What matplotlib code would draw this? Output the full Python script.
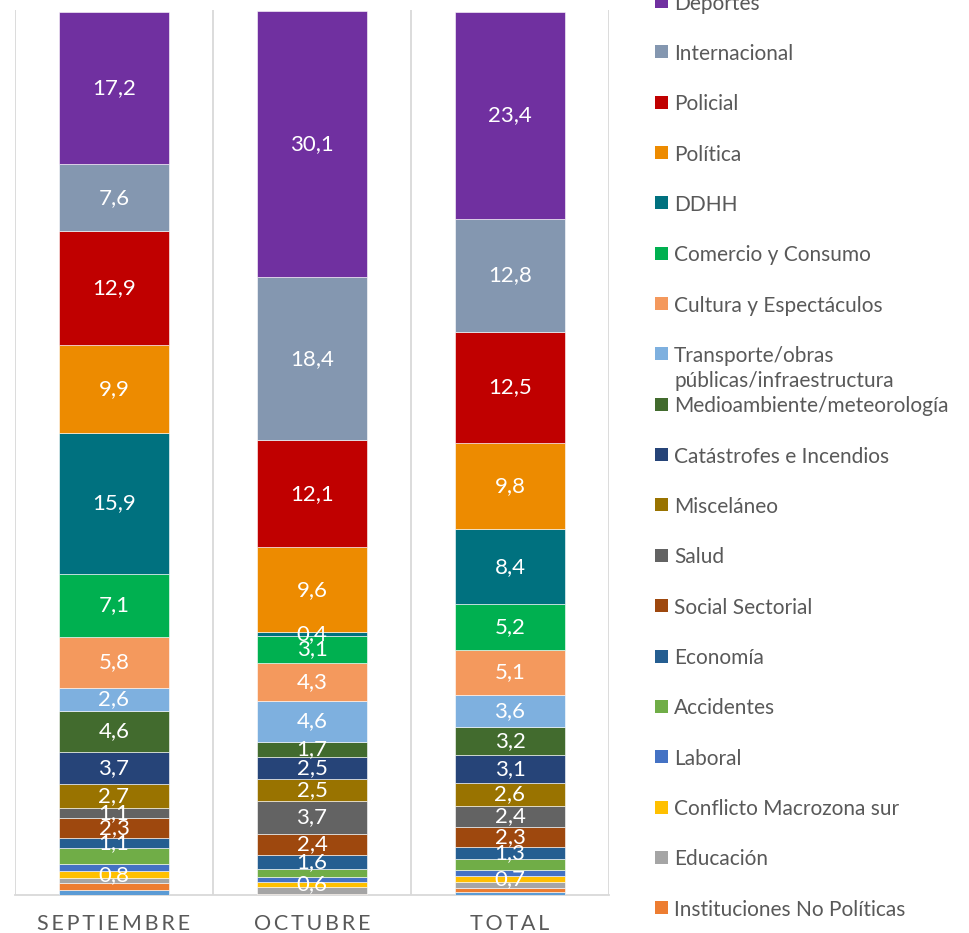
import numpy as np
import matplotlib.pyplot as plt
from matplotlib.patches import Rectangle

plt.rcParams['font.family'] = ['Lato', 'DejaVu Sans']

# ------------------------------------------------------
# DATA (legend order: top of the stack first)
# ------------------------------------------------------
months = ["SEPTIEMBRE", "OCTUBRE", "TOTAL"]
topics = ["Deportes", "Internacional", "Policial", "Política", "DDHH",
          "Comercio y Consumo", "Cultura y Espectáculos",
          "Transporte/obras\npúblicas/infraestructura",
          "Medioambiente/meteorología", "Catástrofes e Incendios",
          "Misceláneo", "Salud", "Social Sectorial", "Economía",
          "Accidentes", "Laboral", "Conflicto Macrozona sur", "Educación",
          "Instituciones No Políticas", "Otros"]
septiembre = [17.2, 7.6, 12.9, 9.9, 15.9, 7.1, 5.8, 2.6, 4.6, 3.7,
              2.7, 1.1, 2.3, 1.1, 1.8, 0.8, 0.8, 0.5, 0.8, 0.6]
octubre = [30.1, 18.4, 12.1, 9.6, 0.4, 3.1, 4.3, 4.6, 1.7, 2.5,
           2.5, 3.7, 2.4, 1.6, 0.9, 0.5, 0.6, 0.8, 0.1, 0.0]
total = [23.4, 12.8, 12.5, 9.8, 8.4, 5.2, 5.1, 3.6, 3.2, 3.1,
         2.6, 2.4, 2.3, 1.3, 1.3, 0.6, 0.7, 0.7, 0.5, 0.3]
show_label = [True] * 14 + [False, False, True, False, False, False]

colors = ["#7030A0", "#8497B0", "#C00000", "#ED8B00", "#00717F",
          "#00B050", "#F4995D", "#7EB0DF", "#426B2E", "#264478",
          "#997300", "#636363", "#9E480E", "#255E91", "#70AD47",
          "#4472C4", "#FFC000", "#A5A5A5", "#ED7D31", "#5B9BD5"]

# ------------------------------------------------------
# PLOTTING
# ------------------------------------------------------
W, H = 969, 933
fig = plt.figure(figsize=(W / 100, H / 100), dpi=100)
ax = fig.add_axes([15 / W, 38 / H, 594 / W, 885 / H])

data = np.array([septiembre, octubre, total]).T   # rows = topics
x = np.arange(len(months))
bottom = np.zeros(len(months))

# stack from the bottom (last topic) upwards
for i in range(len(topics) - 1, -1, -1):
    vals = data[i]
    bars = ax.bar(x, vals, width=0.56, bottom=bottom, color=colors[i],
                  edgecolor="white", linewidth=0.4, zorder=3)
    if show_label[i]:
        labels = [f"{v:.1f}".replace(".", ",") if v > 0 else "" for v in vals]
        txts = ax.bar_label(bars, labels=labels, label_type="center",
                            color="white", fontsize=16)
        for t in txts:
            t.set_zorder(10)   # keep labels above later segments
    bottom += vals

# ------------------------------------------------------
# FORMATTING
# ------------------------------------------------------
ax.set_xlim(-0.5, 2.5)
ax.set_ylim(0, 100)
ax.set_yticks([])
ax.set_xticks(x)
ax.set_xticklabels(["\u2009".join(m) for m in months], color="#595959",
                   fontsize=15.5)
ax.tick_params(axis="x", length=0, pad=14)
ax.set_xticks([-0.5, 0.5, 1.5, 2.5], minor=True)
ax.tick_params(axis="x", which="minor", length=0)
ax.grid(which="minor", axis="x", color="#d9d9d9", linewidth=1.3, zorder=0)
for s in ["top", "left", "right"]:
    ax.spines[s].set_visible(False)
ax.spines["bottom"].set_color("#d9d9d9")
ax.spines["bottom"].set_linewidth(1.3)

# legend drawn by hand (fixed spacing, runs off the figure like the source)
y0, step = 1.5, 50.35
for i, name in enumerate(topics):
    yc = y0 + i * step
    fig.patches.append(Rectangle((655 / W, 1 - (yc + 6.5) / H), 13 / W, 13 / H,
                                 transform=fig.transFigure,
                                 facecolor=colors[i], edgecolor="none"))
    fig.text(674 / W, 1 - (yc - 8) / H, name, ha="left", va="top",
             fontsize=15, color="#595959", linespacing=1.3)

plt.savefig("out.png", dpi=100)
